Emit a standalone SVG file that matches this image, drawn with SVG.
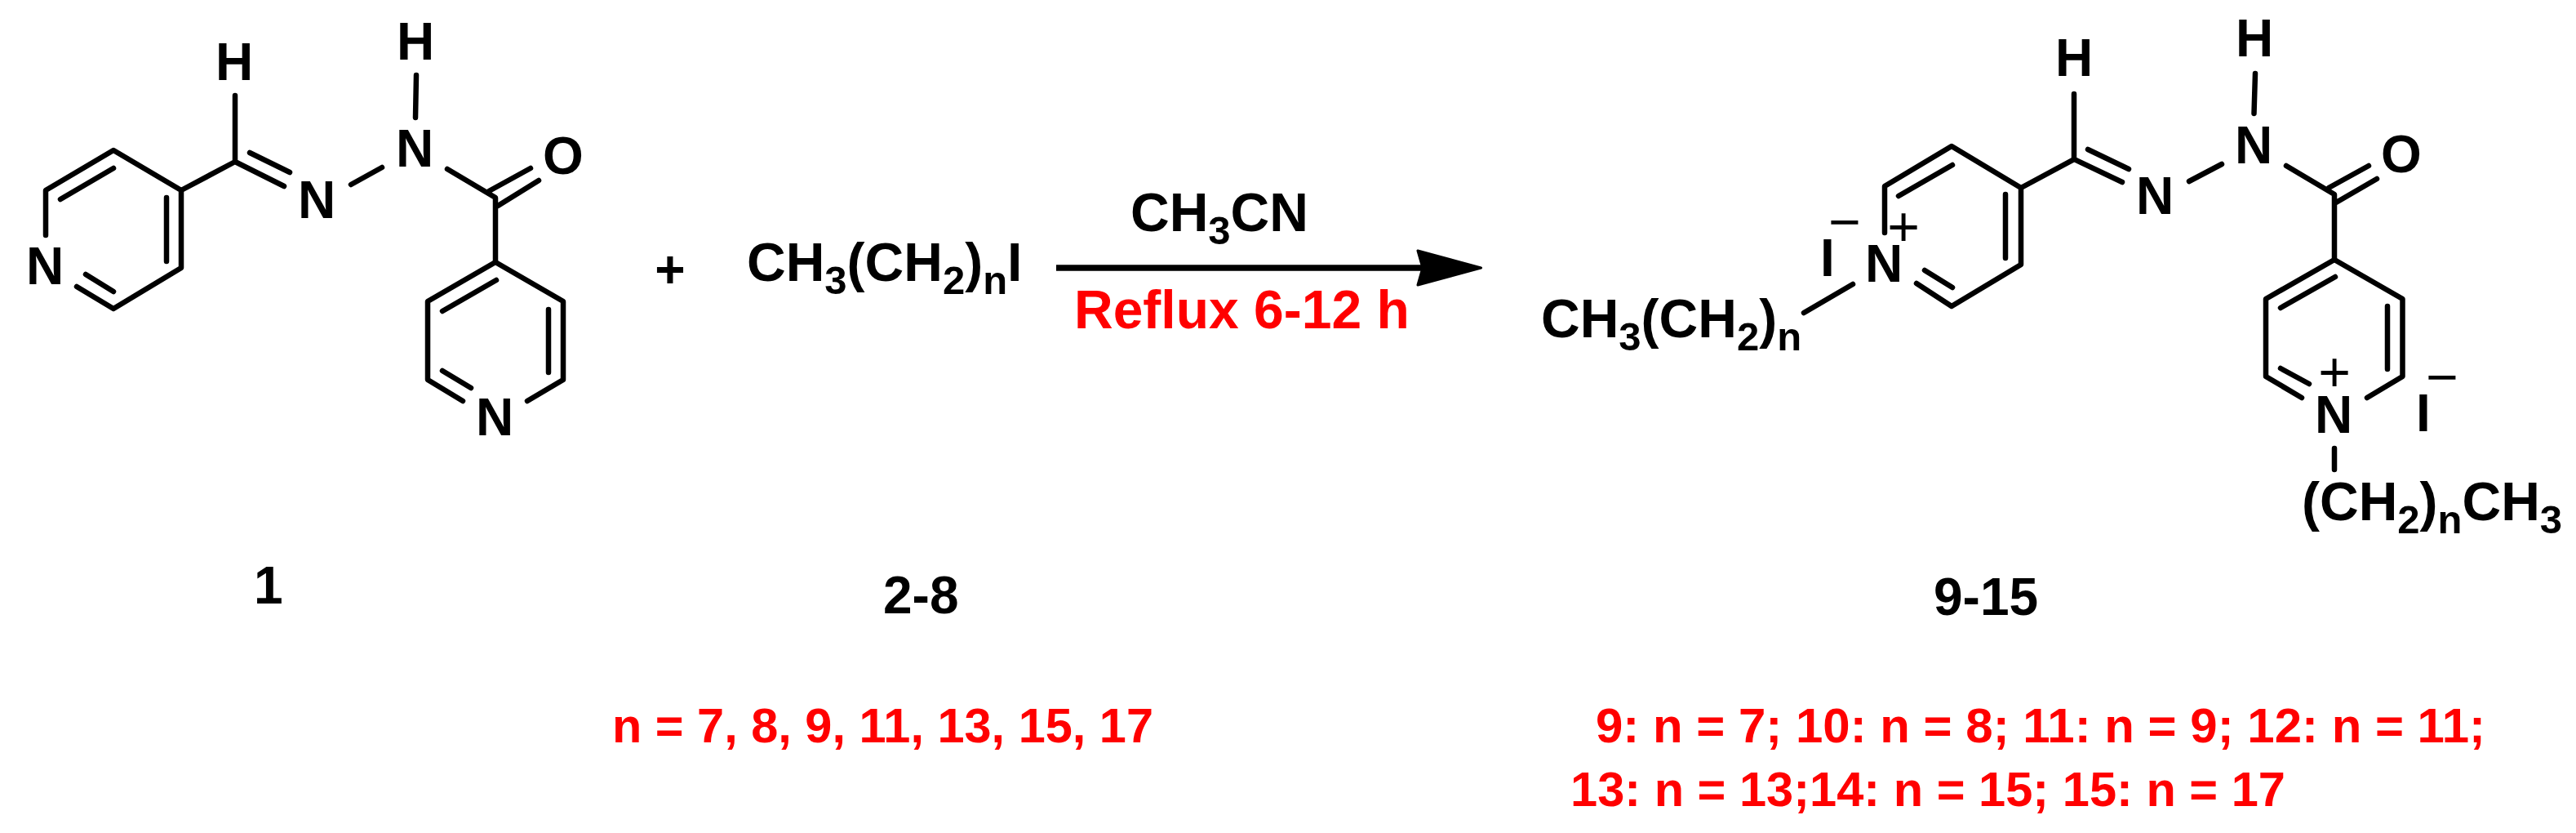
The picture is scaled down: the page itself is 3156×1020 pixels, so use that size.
<svg xmlns="http://www.w3.org/2000/svg" width="3156" height="1020" viewBox="0 0 3156 1020">
<style>
text{font-family:"Liberation Sans",Arial,sans-serif;font-weight:700;font-size:64px;fill:#000}
.a{text-anchor:middle}
.f{font-size:66px}
.r{fill:#f00;font-size:66px}
.l{font-size:59px;fill:#f00}
.c{font-weight:400;font-size:68px}
.s{font-size:49px}
#connectors path{fill:none;stroke:#000;stroke-width:6.5;stroke-linecap:round;stroke-linejoin:round}
#connectors path.arrow{stroke-width:7.5;stroke-linecap:butt}
</style>
<rect width="3156" height="1020" fill="#fff"/>
<g id="connectors">
<g id="bonds-1">
<path d="M56 288V233L139 184L222 233V328L139 378L94 351M74 244L139 206M204 242V320M105 336L139 357"/>
<path d="M222 233L288 198V117M288 198L348 228M306 187L355 211M430 226L468 205M509 144L510 92M548 207L607 242V321M599 234L650 206M610 252L660 221"/>
<path d="M567 491L524 465V369L607 321L690 369V465L646 491M542 381L608 343M672 379V456M542 454L577 475"/>
</g>
<g id="bonds-product">
<path d="M2309 285V228L2391 179L2476 230V324L2391 375L2348 347M2326 240L2392 202M2457 238V316M2358 331L2392 352M2270 348L2210 383"/>
<path d="M2476 230L2541 195V115M2541 195L2600 223M2558 183L2608 207M2682 222L2722 201M2761.5 139L2763 90M2801 203L2860 238V318M2853 230L2902 203M2862 248L2912 219"/>
<path d="M2820 487L2776 461V366L2860 318L2943.5 366V461L2900 487M2794 377L2861 339M2925 375V452M2794 451L2829 470M2860 549V575"/>
</g>
<g id="arrow">
<path class="arrow" d="M1294 328H1745"/>
<polygon points="1737,307 1814.500,328 1737,349 1743,328" fill="#000" stroke="#000" stroke-width="3" stroke-linejoin="round"/>
</g>
</g>
<g id="compound-1">
<text class="a" x="287" y="98">H</text>
<text class="a" x="509" y="73">H</text>
<text class="a" x="55" y="348">N</text>
<text class="a" x="388" y="267">N</text>
<text class="a" x="508" y="204">N</text>
<text class="a" x="690" y="213">O</text>
<text class="a" x="606" y="533">N</text>
<text x="311" y="739">1</text>
</g>
<g id="plus"><text class="a" x="821" y="352">+</text></g>
<g id="reagent">
<text class="f" x="915" y="344">CH<tspan class="s" dy="16">3</tspan><tspan dy="-16">(CH</tspan><tspan class="s" dy="16">2</tspan><tspan dy="-16">)</tspan><tspan class="s" dy="16">n</tspan><tspan dy="-16">I</tspan></text>
<text x="1082" y="751">2-8</text>
</g>
<g id="conditions">
<text class="f" x="1385" y="283">CH<tspan class="s" dy="16">3</tspan><tspan dy="-16">CN</tspan></text>
<text class="r" x="1316" y="402">Reflux 6-12 h</text>
</g>
<g id="product">
<text class="a" x="2541" y="93">H</text>
<text class="a" x="2762" y="69">H</text>
<text class="a" x="2308" y="345">N</text>
<text class="c a" x="2332" y="301">+</text>
<text class="c a" x="2260" y="295">−</text>
<text class="a" x="2239" y="338">I</text>
<text class="f" x="1888" y="413">CH<tspan class="s" dy="16">3</tspan><tspan dy="-16">(CH</tspan><tspan class="s" dy="16">2</tspan><tspan dy="-16">)</tspan><tspan class="s" dy="16">n</tspan></text>
<text class="a" x="2640" y="262">N</text>
<text class="a" x="2761" y="200">N</text>
<text class="a" x="2942" y="211">O</text>
<text class="a" x="2859" y="530">N</text>
<text class="c a" x="2860" y="479">+</text>
<text class="a" x="2969" y="528">I</text>
<text class="c a" x="2992" y="485">−</text>
<text class="f" x="2820" y="637">(CH<tspan class="s" dy="16">2</tspan><tspan dy="-16">)</tspan><tspan class="s" dy="16">n</tspan><tspan dy="-16">CH</tspan><tspan class="s" dy="16">3</tspan></text>
<text x="2369" y="753">9-15</text>
</g>
<g id="notes">
<text class="l" x="750" y="909" textLength="663" lengthAdjust="spacingAndGlyphs">n = 7, 8, 9, 11, 13, 15, 17</text>
<text class="l" x="1955" y="909" textLength="1090" lengthAdjust="spacingAndGlyphs">9: n = 7; 10: n = 8; 11: n = 9; 12: n = 11;</text>
<text class="l" x="1924" y="987" textLength="876" lengthAdjust="spacingAndGlyphs">13: n = 13;14: n = 15; 15: n = 17</text>
</g>
</svg>
